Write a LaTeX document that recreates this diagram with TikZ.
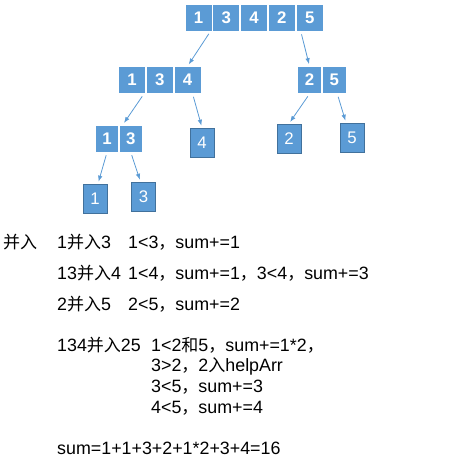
\documentclass[tikz,border=0pt]{standalone}
\usepackage{fontspec}
\setmainfont{Liberation Sans}[Scale=1.05]
\newfontfamily\cjk{Noto Sans CJK SC}
\usetikzlibrary{arrows.meta, positioning}
\definecolor{cellblue}{HTML}{5B9BD5}
\definecolor{edgeblue}{HTML}{41719C}
\tikzset{
  cell/.style={fill=cellblue, draw=white, line width=0.8pt, text=white, inner sep=0pt,
    font=\bfseries\fontsize{16}{16}\selectfont, minimum width=27pt, minimum height=27pt},
  leaf/.style={fill=cellblue, draw=edgeblue, line width=0.8pt, text=white, inner sep=0pt,
    font=\fontsize{16}{16}\selectfont, minimum width=24pt, minimum height=29pt},
  line/.style={-{Latex[length=6pt, width=4.5pt]}, cellblue, line width=0.8pt, shorten <=3pt, shorten >=2pt},
  note/.style={anchor=base west, inner sep=0pt, font=\fontsize{17}{17}\selectfont}
}

\begin{document}
\begin{tikzpicture}[x=1pt, y=-1pt]
    \useasboundingbox (0,0) rectangle (476,466);

    % whole array
    \node[cell] (t1) at (198.5,17.5) {1};
    \node[cell, right=0pt of t1] (t3) {3};
    \node[cell, right=0pt of t3] (t4) {4};
    \node[cell, right=0pt of t4] (t2) {2};
    \node[cell, right=0pt of t2] (t5) {5};

    % first split
    \node[cell] (l1) at (132,80) {1};
    \node[cell, right=0pt of l1] (l3) {3};
    \node[cell, right=0pt of l3] (l4) {4};
    \node[cell, minimum width=24pt] (r2) at (309.5,80) {2};
    \node[cell, minimum width=24pt, right=0pt of r2] (r5) {5};

    % second split
    \node[cell, minimum width=23pt] (m1) at (107,138.5) {1};
    \node[cell, minimum width=23pt, right=0pt of m1] (m3) {3};
    \node[leaf] (b4) at (202,142.5) {4};
    \node[leaf] (c2) at (289,138.5) {2};
    \node[leaf] (c5) at (352,137.5) {5};

    % single elements
    \node[leaf] (d1) at (95,198.5) {1};
    \node[leaf] (d3) at (143.5,196.5) {3};

    \draw[line] ([xshift=-2pt]t1.south east) -- (l4.north);
    \draw[line] ([xshift=5pt]t5.south west) -- (r2.north);
    \draw[line] ([xshift=-2pt]l1.south east) -- ([xshift=4pt]m3.north west);
    \draw[line] ([xshift=5pt]l4.south) -- (b4.north);
    \draw[line] (r2.south) -- (c2.north);
    \draw[line] ([xshift=3pt]r5.south) -- ([xshift=-6pt]c5.north);
    \draw[line] (m1.south) -- ([xshift=3pt]d1.north);
    \draw[line] (m3.south) -- ([xshift=-3pt]d3.north);

    % merge steps
    \node[note] (merge) at (3,248) {\cjk 并入};
    \node[note] (m13) at (57,248) {1{\cjk 并入}3};
    \node[note] (s13) at (128,248) {1<3{\cjk ，}sum+=1};
    \node[note] (m134) at (57,279) {13{\cjk 并入}4};
    \node[note] (s134) at (128,279) {1<4{\cjk ，}sum+=1{\cjk ，}3<4{\cjk ，}sum+=3};
    \node[note] (m25) at (57,310) {2{\cjk 并入}5};
    \node[note] (s25) at (128,310) {2<5{\cjk ，}sum+=2};
    \node[note] (mall) at (57,351) {134{\cjk 并入}25};
    \node[note] (sa) at (151,351) {1<2{\cjk 和}5{\cjk ，}sum+=1*2{\cjk ，}};
    \node[note] (sb) at (151,371) {3>2{\cjk ，}2{\cjk 入}helpArr};
    \node[note] (sc) at (151,392) {3<5{\cjk ，}sum+=3};
    \node[note] (sd) at (151,413) {4<5{\cjk ，}sum+=4};
    \node[note] (total) at (57,454) {sum=1+1+3+2+1*2+3+4=16};

\end{tikzpicture}
\end{document}
